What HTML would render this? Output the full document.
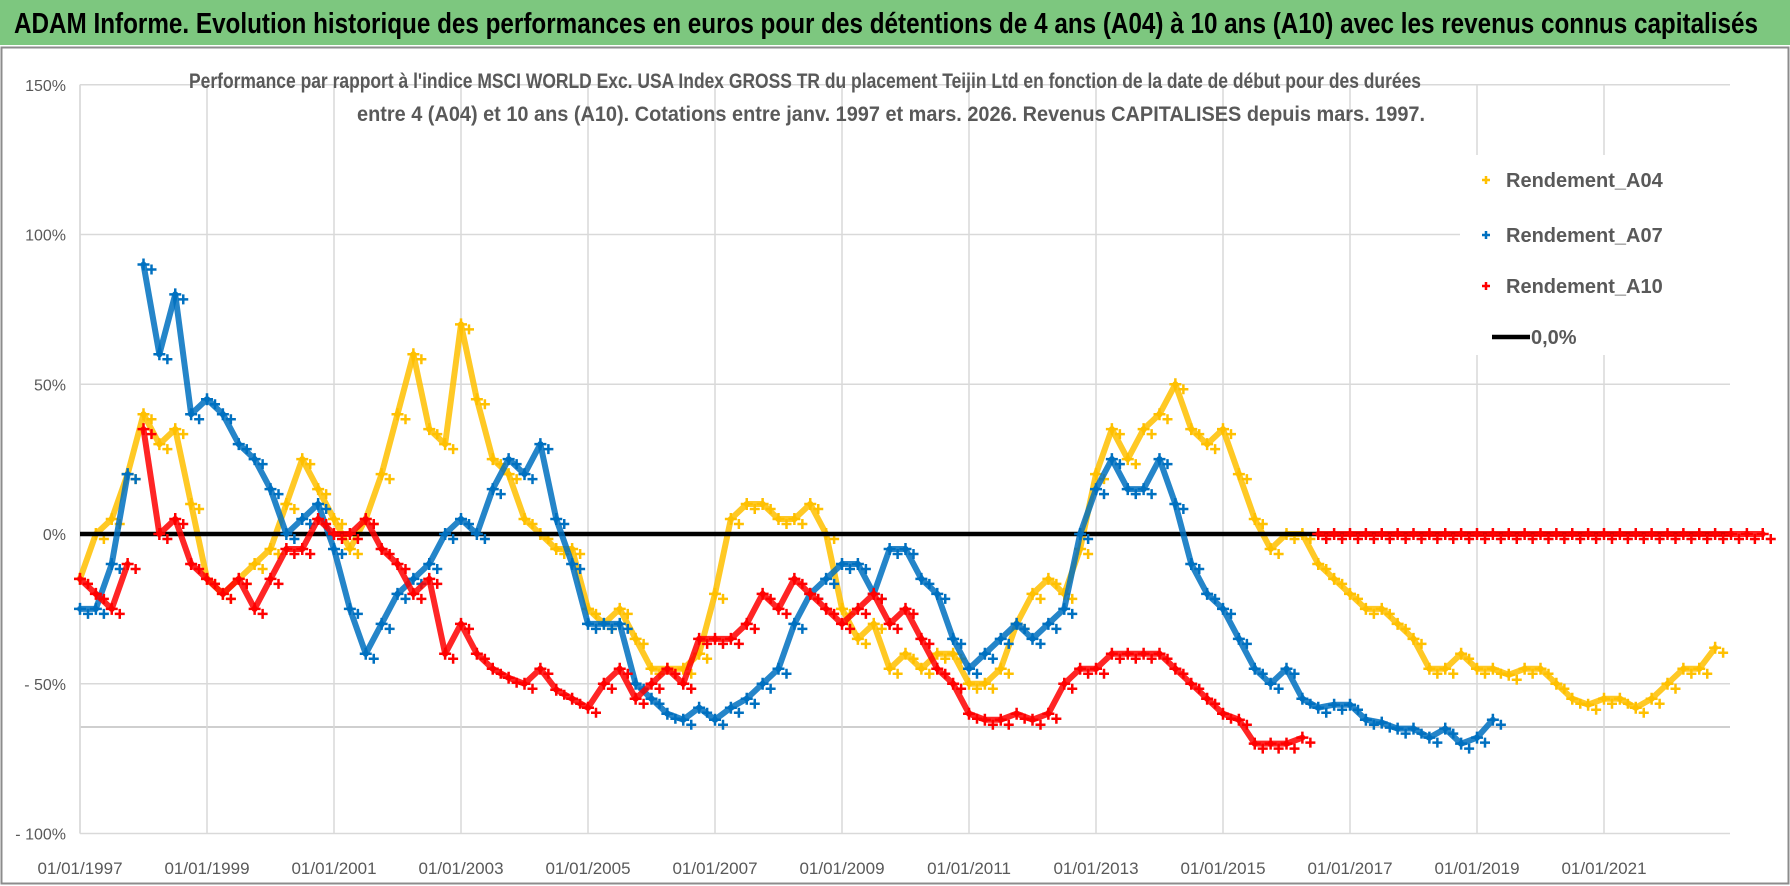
<!DOCTYPE html>
<html><head><meta charset="utf-8"><style>
html,body{margin:0;padding:0;background:#fff;}
svg{display:block;font-family:"Liberation Sans Narrow","Liberation Sans",sans-serif;}
</style></head><body>
<svg id="chart" width="1790" height="886" viewBox="0 0 1790 886">
  <rect x="0" y="0" width="1790" height="45" fill="#7dc77f"/>
  <text x="14" y="33" font-size="29" font-weight="bold" fill="#000" textLength="1744" lengthAdjust="spacingAndGlyphs">ADAM Informe. Evolution historique des performances en euros pour des détentions de 4 ans (A04) à 10 ans (A10) avec les revenus connus capitalisés</text>
  <rect x="1.5" y="47.5" width="1787" height="836" fill="none" stroke="#8c8c8c" stroke-width="2"/>
  <g id="grid"></g>
  <g id="series"></g>
  <g id="axes"></g>
  <text x="805" y="88" text-anchor="middle" font-size="21" font-weight="bold" fill="#595959" textLength="1232" lengthAdjust="spacingAndGlyphs">Performance par rapport à l'indice MSCI WORLD Exc. USA Index GROSS TR  du placement Teijin Ltd en fonction de la date de début pour des durées</text>
  <text x="891" y="121" text-anchor="middle" font-size="21" font-weight="bold" fill="#595959" textLength="1068" lengthAdjust="spacingAndGlyphs">entre 4 (A04) et 10 ans (A10).  Cotations entre janv. 1997 et mars. 2026.  Revenus CAPITALISES depuis mars. 1997.</text>
  <g id="legend">
    <rect x="1460" y="155" width="275" height="200" fill="#fff"/>
  </g>
</svg>
<script>
const years = ["01/01/1997","01/01/1999","01/01/2001","01/01/2003","01/01/2005","01/01/2007","01/01/2009","01/01/2011","01/01/2013","01/01/2015","01/01/2017","01/01/2019","01/01/2021"];
const yTicks = [150,100,50,0,-50,-100];
const startYear = 1997;
const step = 0.25;
const a04 = [-15,0,5,20,40,30,35,10,-15,-20,-15,-10,-5,10,25,15,5,-5,5,20,40,60,35,30,70,45,25,20,5,0,-5,-5,-25,-30,-25,-35,-45,-45,-45,-40,-20,5,10,10,5,5,10,0,-25,-35,-30,-45,-40,-45,-40,-40,-50,-50,-45,-30,-20,-15,-20,-5,20,35,25,35,40,50,35,30,35,20,5,-5,0,0,-10,-15,-20,-25,-25,-30,-35,-45,-45,-40,-45,-45,-47,-45,-45,-50,-55,-57,-55,-55,-58,-55,-50,-45,-45,-38];
const a07 = [-25,-25,-10,20,90,60,80,40,45,40,30,25,15,0,5,10,-5,-25,-40,-30,-20,-15,-10,0,5,0,15,25,20,30,5,-10,-30,-30,-30,-50,-55,-60,-62,-58,-62,-58,-55,-50,-45,-30,-20,-15,-10,-10,-20,-5,-5,-15,-20,-35,-45,-40,-35,-30,-35,-30,-25,0,15,25,15,15,25,10,-10,-20,-25,-35,-45,-50,-45,-55,-58,-57,-57,-62,-63,-65,-65,-68,-65,-70,-68,-62];
const a10 = [-15,-20,-25,-10,35,0,5,-10,-15,-20,-15,-25,-15,-5,-5,5,0,0,5,-5,-10,-20,-15,-40,-30,-40,-45,-48,-50,-45,-52,-55,-58,-50,-45,-55,-50,-45,-50,-35,-35,-35,-30,-20,-25,-15,-20,-25,-30,-25,-20,-30,-25,-35,-45,-50,-60,-62,-62,-60,-62,-60,-50,-45,-45,-40,-40,-40,-40,-45,-50,-55,-60,-62,-70,-70,-70,-68,0,0,0,0,0,0,0,0,0,0,0,0,0,0,0,0,0,0,0,0,0,0,0,0,0,0,0,0,0];
const legendLabels = ["Rendement_A04","Rendement_A07","Rendement_A10","0,0%"];

const NS = "http://www.w3.org/2000/svg";
const X0 = 80, PXY = 63.5, Y0 = 534, PXV = 2.995, XEND = 1730;
function xs(yr){ return X0 + (yr - startYear) * PXY; }
function ys(v){ return Y0 - v * PXV; }
function mk(tag, attrs, parent){ const e = document.createElementNS(NS, tag); for (const k in attrs) e.setAttribute(k, attrs[k]); parent.appendChild(e); return e; }

const grid = document.getElementById('grid');
const axes = document.getElementById('axes');
yTicks.forEach(function(t){
  const l = mk('line',{x1:X0,x2:XEND,y1:ys(t),y2:ys(t),stroke:'#d9d9d9','stroke-width':1.5},grid);
  
  
  const tx = mk('text',{x:66,y:ys(t)+6,'text-anchor':'end','font-size':16,fill:'#595959'},axes);
  tx.textContent = (t < 0 ? '- ' + (-t) : t) + '%';
  
  
});
const extra = mk('line',{x1:X0,x2:XEND,y1:727,y2:727,stroke:'#bfbfbf','stroke-width':1.5},grid);


years.forEach(function(lab, i){
  const x = xs(startYear + i * 2);
  const l = mk('line',{x1:x,x2:x,y1:ys(150),y2:ys(-100),stroke:'#d9d9d9','stroke-width':1.5},grid);
  
  
  const tx = mk('text',{x:x,y:874,'text-anchor':'middle','font-size':17,fill:'#595959'},axes);
  tx.textContent = lab;
  
  
});
const axisL = mk('line',{x1:X0,x2:X0,y1:ys(150),y2:ys(-100),stroke:'#d9d9d9','stroke-width':1.5},grid);



const ser = document.getElementById('series');
function plus(g, x, y, color, s){
  return mk('path',{d:'M'+(x-s)+' '+y+'H'+(x+s)+'M'+x+' '+(y-s)+'V'+(y+s),stroke:color,'stroke-width':2.5,fill:'none'},g);
}
function drawSeries(vals, color, name){
  const g = mk('g',{},ser);
  
  
  for (let i = 1; i < vals.length; i++){
    if (Math.abs(vals[i] - vals[i-1]) > 40) continue;
    const seg = mk('line',{x1:xs(startYear+(i-1)*step),y1:ys(vals[i-1]),x2:xs(startYear+i*step),y2:ys(vals[i]),stroke:color,'stroke-width':6,'stroke-linecap':'round',opacity:0.85},g);
    
    
  }
  vals.forEach(function(v, i){
    const x = xs(startYear + i * step), y = ys(v);
    const p = plus(g, x, y, color, 6);
    
    
    const p2 = plus(g, x + 8, y + 5, color, 5);
    
    
  });
}
drawSeries(a04, '#ffc000', 'series-a04');
const zl = mk('line',{x1:X0,x2:XEND,y1:ys(0),y2:ys(0),stroke:'#000','stroke-width':4.5},ser);


drawSeries(a07, '#0070c0', 'series-a07');
drawSeries(a10, '#ff0000', 'series-a10');

const leg = document.getElementById('legend');
const legColors = ['#ffc000','#0070c0','#ff0000','#000'];
const legY = [180, 235, 286, 337];
legendLabels.forEach(function(lab, i){
  let m;
  if (i < 3) { m = plus(leg, 1486, legY[i], legColors[i], 4); }
  else { m = mk('line',{x1:1492,x2:1530,y1:legY[i],y2:legY[i],stroke:'#000','stroke-width':4.5},leg); }
  
  
  const t = mk('text',{x:i < 3 ? 1506 : 1531,y:legY[i]+7,'font-size':20,'font-weight':'bold',fill:'#595959'},leg);
  t.textContent = lab;
  
  
});
</script>
</body></html>
